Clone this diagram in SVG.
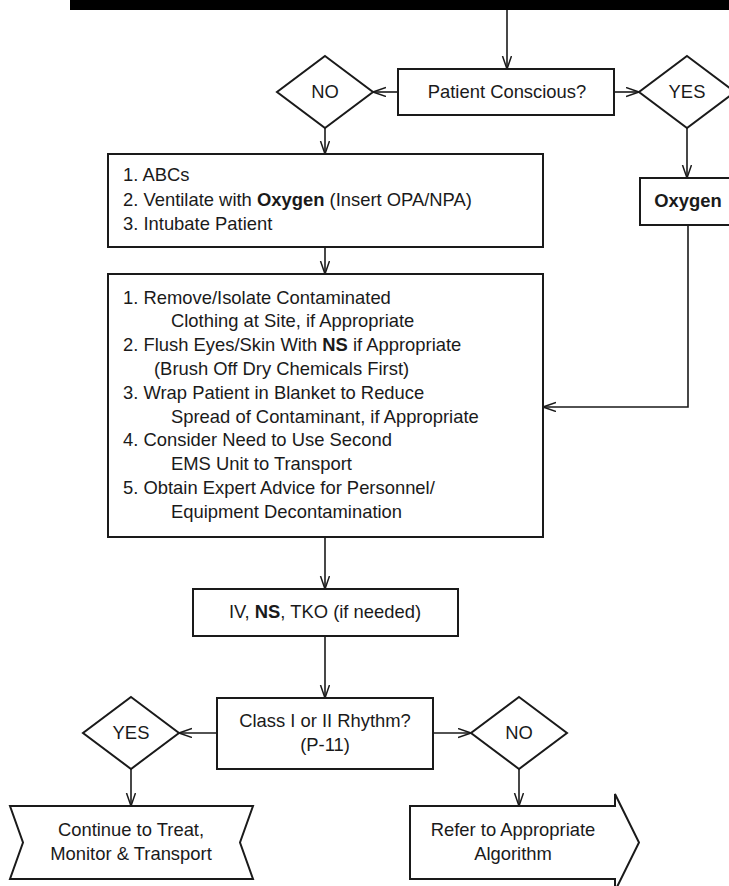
<svg xmlns="http://www.w3.org/2000/svg" width="729" height="886" viewBox="0 0 729 886">
<defs>
<style>
.box{fill:#fff;stroke:#1a1a1a;stroke-width:2}
.ln{fill:none;stroke:#1a1a1a;stroke-width:1.6}
text{font-family:"Liberation Sans",Arial,sans-serif;font-size:18.4px;fill:#1a1a1a}
.c{text-anchor:middle}
.b{font-weight:bold}
</style>
<marker id="ah" markerUnits="userSpaceOnUse" markerWidth="14" markerHeight="12" refX="13" refY="5" orient="auto">
<path d="M0,0.5 L13,5 L0,9.5" fill="none" stroke="#1a1a1a" stroke-width="1.5"/>
</marker>
</defs>
<rect x="70" y="0" width="659" height="10" fill="#000"/>
<g id="connectors">
<line class="ln" x1="507" y1="10" x2="507" y2="69" marker-end="url(#ah)"/>
<line class="ln" x1="398" y1="92" x2="373" y2="92" marker-end="url(#ah)"/>
<line class="ln" x1="614" y1="92" x2="639" y2="92" marker-end="url(#ah)"/>
<line class="ln" x1="325" y1="128" x2="325" y2="154" marker-end="url(#ah)"/>
<line class="ln" x1="687" y1="128" x2="687" y2="178" marker-end="url(#ah)"/>
<line class="ln" x1="325" y1="247" x2="325" y2="274" marker-end="url(#ah)"/>
<polyline class="ln" points="688,225 688,407 543,407" marker-end="url(#ah)"/>
<line class="ln" x1="325" y1="537" x2="325" y2="589" marker-end="url(#ah)"/>
<line class="ln" x1="325" y1="636" x2="325" y2="698" marker-end="url(#ah)"/>
<line class="ln" x1="217" y1="733" x2="179" y2="733" marker-end="url(#ah)"/>
<line class="ln" x1="433" y1="733" x2="471" y2="733" marker-end="url(#ah)"/>
<line class="ln" x1="131" y1="769" x2="131" y2="806" marker-end="url(#ah)"/>
<line class="ln" x1="519" y1="769" x2="519" y2="806" marker-end="url(#ah)"/>
</g>
<g id="patient-conscious">
<rect class="box" x="398" y="69" width="216" height="46"/>
<text class="c" x="507" y="98">Patient Conscious?</text>
</g>
<g id="no-1">
<polygon class="box" points="325,56 373,92 325,128 277,92"/>
<text class="c" x="325" y="98">NO</text>
</g>
<g id="yes-1">
<polygon class="box" points="687,56 735,92 687,128 639,92"/>
<text class="c" x="687" y="98">YES</text>
</g>
<g id="abc">
<rect class="box" x="108" y="154" width="435" height="93"/>
<text x="123" y="181">1. ABCs</text>
<text x="123" y="205.5">2. Ventilate with <tspan class="b">Oxygen</tspan> (Insert OPA/NPA)</text>
<text x="123" y="230">3. Intubate Patient</text>
</g>
<g id="oxygen">
<rect class="box" x="640" y="178" width="100" height="47"/>
<text class="c b" x="688" y="207">Oxygen</text>
</g>
<g id="decon">
<rect class="box" x="108" y="274" width="435" height="263"/>
<text x="123" y="303.5">1. Remove/Isolate Contaminated</text>
<text x="171" y="327.3">Clothing at Site, if Appropriate</text>
<text x="123" y="351.1">2. Flush Eyes/Skin With <tspan class="b">NS</tspan> if Appropriate</text>
<text x="154" y="374.9">(Brush Off Dry Chemicals First)</text>
<text x="123" y="398.7">3. Wrap Patient in Blanket to Reduce</text>
<text x="171" y="422.5">Spread of Contaminant, if Appropriate</text>
<text x="123" y="446.3">4. Consider Need to Use Second</text>
<text x="171" y="470.1">EMS Unit to Transport</text>
<text x="123" y="493.9">5. Obtain Expert Advice for Personnel/</text>
<text x="171" y="517.7">Equipment Decontamination</text>
</g>
<g id="iv">
<rect class="box" x="193" y="589" width="265" height="47"/>
<text class="c" x="325" y="618">IV, <tspan class="b">NS</tspan>, TKO (if needed)</text>
</g>
<g id="class-rhythm">
<rect class="box" x="217" y="698" width="216" height="71"/>
<text class="c" x="325" y="727">Class I or II Rhythm?</text>
<text class="c" x="325" y="751">(P-11)</text>
</g>
<g id="yes-2">
<polygon class="box" points="131,697 179,733 131,769 83,733"/>
<text class="c" x="131" y="739">YES</text>
</g>
<g id="no-2">
<polygon class="box" points="519,697 567,733 519,769 471,733"/>
<text class="c" x="519" y="739">NO</text>
</g>
<g id="continue">
<polygon class="box" points="10,806 253,806 240,842.5 253,879 10,879 23,842.5"/>
<text class="c" x="131" y="836">Continue to Treat,</text>
<text class="c" x="131" y="860">Monitor &amp; Transport</text>
</g>
<g id="refer">
<polygon class="box" points="410,806 615,806 615,794 639,842.5 615,891 615,879 410,879"/>
<text class="c" x="513" y="836">Refer to Appropriate</text>
<text class="c" x="513" y="860">Algorithm</text>
</g>
</svg>
